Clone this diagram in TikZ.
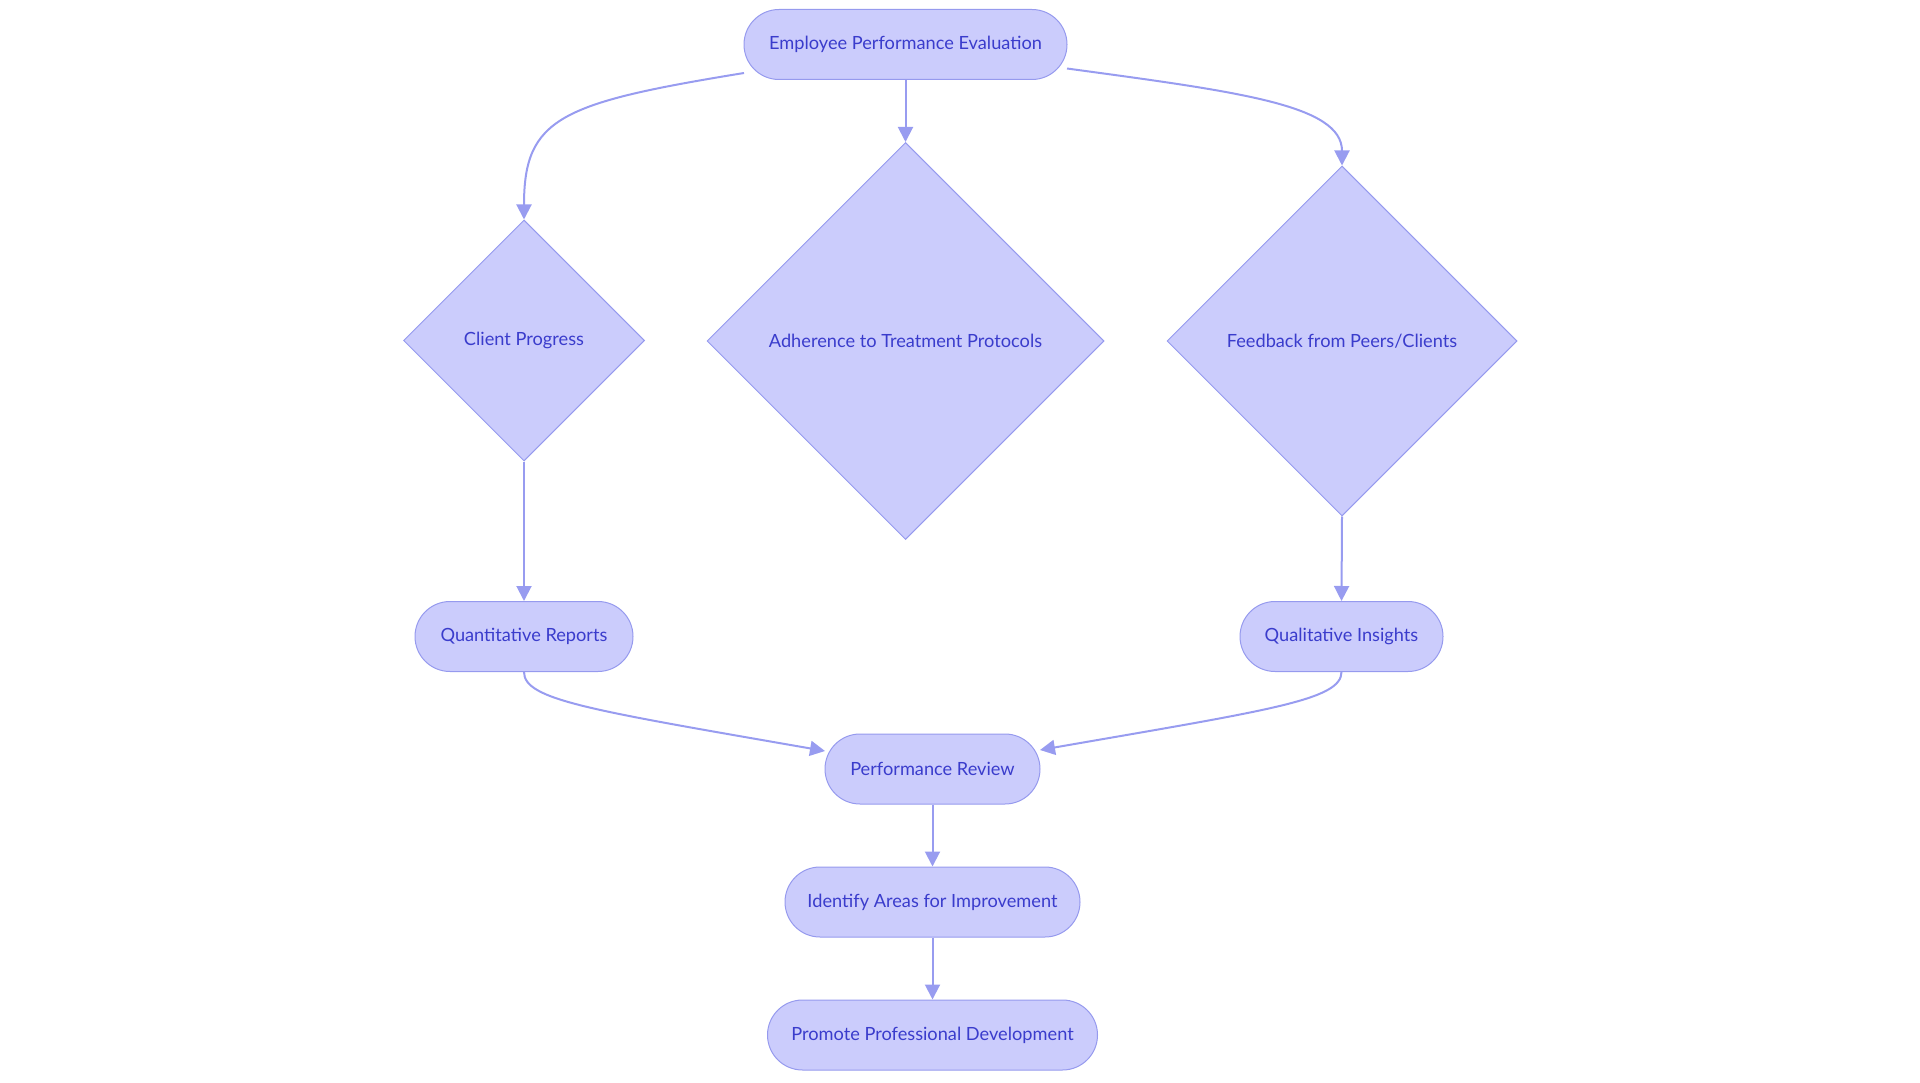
\documentclass[tikz,border=0pt]{standalone}
\usepackage{fontspec}
\setmainfont{Lato}
\usetikzlibrary{shapes.geometric,arrows.meta}
\definecolor{nfill}{RGB}{203,204,252}
\definecolor{nline}{RGB}{150,154,238}
\definecolor{ntext}{RGB}{58,60,204}
\definecolor{eline}{RGB}{152,156,240}
\tikzset{
  pill/.style={rectangle, rounded corners=35pt, fill=nfill, draw=nline, line width=1pt,
    minimum height=70pt, inner sep=0pt, text=ntext, font=\fontsize{18.2}{21}\selectfont},
  dia/.style={diamond, aspect=1, fill=nfill, draw=nline, line width=1pt, inner sep=0pt,
    text=ntext, font=\fontsize{18.2}{21}\selectfont},
  conn/.style={draw=eline, line width=2pt, -{Triangle[length=15pt,width=15pt]}},
}
\begin{document}
\begin{tikzpicture}[x=1pt,y=-1pt]
\useasboundingbox (0,0) rectangle (1920,1083);
\node[pill, minimum width=323pt] (top) at (905.5,44.5) {Employee Performance Evaluation};
\node[dia, minimum width=241pt, minimum height=241pt] (cp) at (524,340.5) {Client Progress};
\node[dia, minimum width=397pt, minimum height=397pt] (ad) at (905.5,341) {Adherence to Treatment Protocols};
\node[dia, minimum width=350pt, minimum height=350pt] (fb) at (1342,341) {Feedback from Peers/Clients};
\node[pill, minimum width=218pt] (qr) at (524,636.5) {Quantitative Reports};
\node[pill, minimum width=203pt] (qi) at (1341.5,636.5) {Qualitative Insights};
\node[pill, minimum width=215pt] (pr) at (932.5,769) {Performance Review};
\node[pill, minimum width=295pt] (ia) at (932.5,902) {Identify Areas for Improvement};
\node[pill, minimum width=330pt] (pd) at (932.5,1035) {Promote Professional Development};
\coordinate (tl) at (744,73);
\coordinate (tr) at (1067,68.5);
\coordinate (prl) at (825,751);
\coordinate (prr) at (1040,750);
\draw[conn] (tl) .. controls (560,103) and (524,118) .. (cp.north);
\draw[conn] (top.south) -- (ad.north);
\draw[conn] (tr) .. controls (1240,92) and (1342,105) .. (fb.north);
\draw[conn] (cp.south) -- (qr.north);
\draw[conn] (fb.south) -- (qi.north);
\draw[conn] (qr.south) .. controls (524,700) and (590,710) .. (prl);
\draw[conn] (qi.south) .. controls (1341.5,700) and (1270,710) .. (prr);
\draw[conn] (pr.south) -- (ia.north);
\draw[conn] (ia.south) -- (pd.north);
\end{tikzpicture}
\end{document}
